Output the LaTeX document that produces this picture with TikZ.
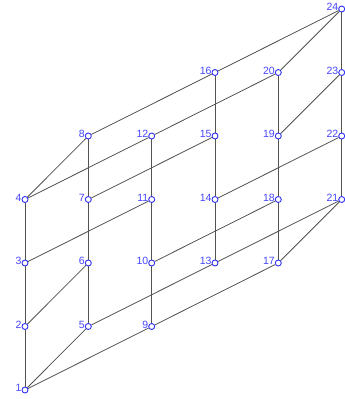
\documentclass[tikz,border=0pt]{standalone}
\usepackage{fontspec}
\setmainfont{Liberation Sans}
\usetikzlibrary{backgrounds}
\definecolor{vblue}{RGB}{50,50,245}
\definecolor{lblue}{RGB}{70,70,255}
\begin{document}
\begin{tikzpicture}[x=1pt,y=-1pt,
  vtx/.style={circle,draw=vblue,fill=white,line width=0.9pt,inner sep=0pt,minimum size=6pt},
  lbl/.style={text=lblue,font=\fontsize{10.5}{10.5}\selectfont,anchor=base east,inner sep=0pt},
  edgeline/.style={draw=black!68,line width=0.8pt}]
\useasboundingbox (0,0) rectangle (345,399);
\foreach \x/\b/\s in {25/0/1, 88.3/1/5, 151.7/1/9, 215/2/13, 278.3/2/17, 341.7/3/21} {
  \foreach \i in {0,...,3} {
    \pgfmathtruncatemacro\n{\s+\i}
    \node[vtx] (v\n) at (\x, {390-63.5*(\b+\i)}) {};
    \node[lbl] (l\n) at ([shift={(-3.3,1.5)}]v\n.center) {\n};
  }
}
\begin{scope}[on background layer]
\foreach \a/\z in {1/2,2/3,3/4,5/6,6/7,7/8,9/10,10/11,11/12,13/14,14/15,15/16,17/18,18/19,19/20,21/22,22/23,23/24,
  1/5,1/9,2/6,3/11,4/8,4/12,5/13,7/15,8/16,9/17,10/18,12/20,13/21,14/22,16/24,17/21,19/23,20/24}
  \draw[edgeline] (v\a) -- (v\z);
\end{scope}
\end{tikzpicture}
\end{document}
